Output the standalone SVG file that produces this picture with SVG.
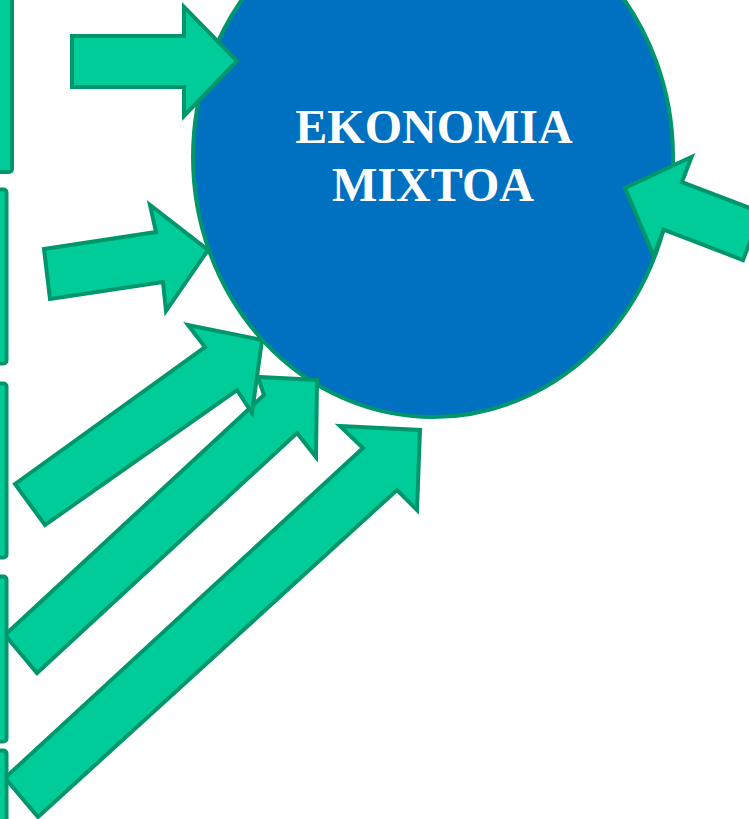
<svg xmlns="http://www.w3.org/2000/svg" width="749" height="819" viewBox="0 0 749 819">
  <style>
    .arrow { fill: #00CC99; stroke: #00966C; stroke-width: 4; stroke-linejoin: miter; }
    .box { fill: #00CC99; stroke: #00966C; stroke-width: 4; }
    .hub { fill: #0070C0; stroke: #00966C; stroke-width: 4; }
    .label { font-family: "Liberation Serif", "Times New Roman", serif; font-weight: bold; font-size: 48px; fill: #FFFFFF; text-anchor: middle; }
  </style>
  <rect x="0" y="0" width="749" height="819" fill="#FFFFFF"/>
  <g id="economia-mixtoa">
    <ellipse class="hub" cx="433" cy="157" rx="240" ry="260"/>
    <text class="label" x="434" y="143">EKONOMIA</text>
    <text class="label" x="433" y="201">MIXTOA</text>
  </g>
  <g id="connectors">
    <polygon class="arrow" points="5,778 363,448 340,426 420,430 417,510 397,490 38,817"/>
    <polygon class="arrow" points="5,635 264,395 258,377 317,380 316,457 297,433 37,673"/>
    <polygon class="arrow" points="15,484 205,347 188,325 262,340 252,413 237,390 45,525"/>
    <polygon class="arrow" points="44,249 156,232 150,205 208,250 166,311 163,282 50,299"/>
    <polygon class="arrow" points="72,36 184,36 184,7 237,61 184,116 184,87 72,87"/>
    <polygon class="arrow" transform="translate(625,188) rotate(21)" points="0,0 51,-53 51,-26 136,-26 136,25 51,25 51,53"/>
  </g>
  <g id="box-1"><rect class="box" x="-20" y="-20" width="32" height="192" rx="3"/></g>
  <g id="box-2"><rect class="box" x="-20" y="189.5" width="26.5" height="174" rx="3"/></g>
  <g id="box-3"><rect class="box" x="-20" y="383.5" width="26.5" height="174" rx="3"/></g>
  <g id="box-4"><rect class="box" x="-20" y="576.5" width="26.5" height="165" rx="3"/></g>
  <g id="box-5"><rect class="box" x="-20" y="750.5" width="26.5" height="100" rx="3"/></g>
</svg>
